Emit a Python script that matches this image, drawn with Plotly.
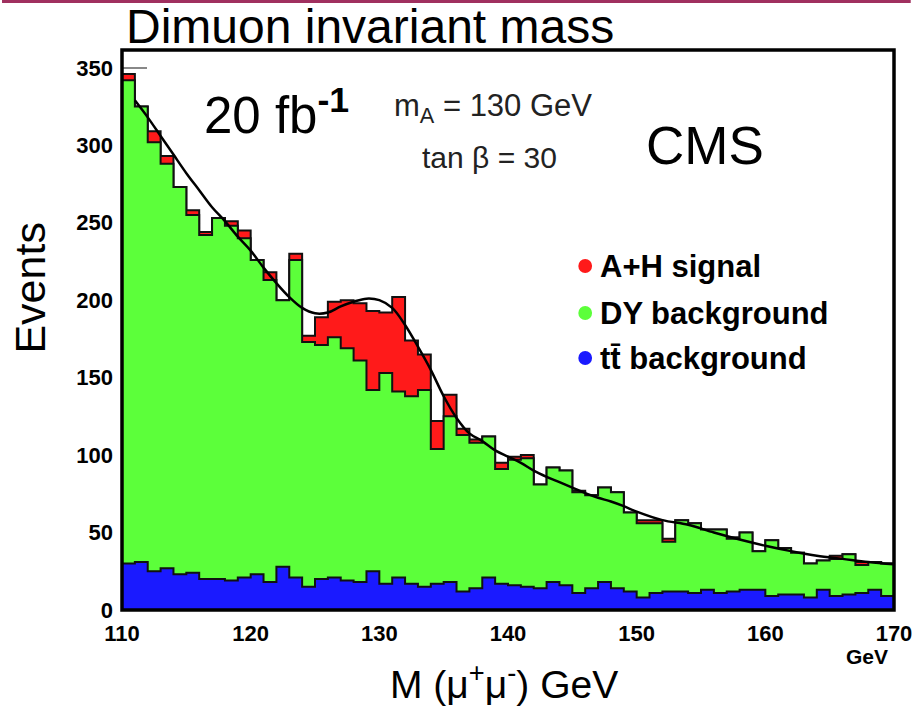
import plotly.graph_objects as go

# ---------------- data ----------------
mass_edges = list(range(110, 171))          # 1 GeV bins, 110 -> 170 GeV
tt_bkg = [30, 31, 25, 27, 23, 24, 20, 20, 19, 21,
          23, 18, 28, 21, 15, 20, 21, 19, 18, 25,
          17, 21, 17, 15, 17, 18, 12, 14, 21, 17,
          16, 15, 14, 18, 16, 11, 14, 18, 14, 12,
          8, 11, 12, 12, 11, 13, 11, 12, 13, 13,
          9, 10, 10, 8, 13, 9, 10, 11, 13, 9]
dy_bkg = [312, 294, 277, 261, 250, 231, 222, 233, 229, 219,
          203, 195, 172, 205, 158, 151, 155, 150, 143, 117,
          136, 120, 121, 127, 87, 107, 101, 94, 91, 74,
          81, 83, 67, 74, 74, 65, 60, 61, 62, 51,
          48, 45, 32, 46, 45, 39, 41, 34, 37, 25,
          36, 30, 27, 22, 19, 24, 26, 18, 18, 21]
signal = [4, 0, 7, 5, 0, 3, 2, 0, 3, 5,
          0, 5, 0, 4, 4, 18, 23, 31, 37, 51,
          39, 61, 36, 23, 18, 14, 4, 2, 0, 4,
          2, 2, 0, 0, 0, 1, 0, 0, 0, 0,
          2, 2, 2, 0, 0, 0, 0, 1, 0, 0,
          0, 0, 0, 0, 0, 2, 0, 2, 0, 0]
fit_x = [111, 112, 113, 114, 115, 116, 117, 118, 119, 120, 121, 122, 123, 124,
         125, 126, 127, 128, 129, 130, 131, 132, 133, 134, 135, 136, 137, 138,
         139, 140, 141, 142, 143, 144, 145, 146, 147, 148, 149, 150, 152, 154,
         156, 158, 160, 162, 164, 166, 168, 170]
fit_y = [329, 318, 306, 294, 282, 271, 260, 251, 241, 232, 221, 211, 202, 195,
         191.5, 192, 196, 199, 201, 200, 195, 184, 170, 155, 138, 124, 114, 109,
         103, 99, 95, 90, 86, 82.5, 79, 75.5, 72.5, 70, 67, 63.5, 58, 55,
         50, 45.5, 41.5, 38, 35, 33, 31, 29.5]
x_ticks = [110, 120, 130, 140, 150, 160, 170]
y_ticks = [0, 50, 100, 150, 200, 250, 300, 350]

# stacked tops
green_top = [t + d for t, d in zip(tt_bkg, dy_bkg)]
red_top = [g + s for g, s in zip(green_top, signal)]

# ---------------- layout geometry ----------------
W, H = 924, 707
L, R, T, B = 122, 907, 50, 610


def px(x):
    return (x - L) / (R - L)


def py(y):
    return (B - y) / (B - T)


FONT = "Liberation Sans, Arial, Helvetica, sans-serif"


def step(vals):
    return list(vals) + [vals[-1]]


fig = go.Figure()
for vals, col in [(red_top, "#ff1a1a"), (green_top, "#5cff3a"), (tt_bkg, "#1a1aff")]:
    fig.add_trace(go.Scatter(
        x=mass_edges, y=step(vals), mode="lines", line_shape="hv",
        line=dict(color="#111111", width=2), fill="tozeroy", fillcolor=col,
        hoverinfo="skip", showlegend=False))

fig.add_trace(go.Scatter(x=fit_x, y=fit_y, mode="lines", line_shape="spline",
                         line=dict(color="#000000", width=2.5),
                         showlegend=False, hoverinfo="skip"))

fig.update_layout(
    width=W, height=H,
    margin=dict(l=L, r=W - R, t=T, b=H - B, pad=0),
    paper_bgcolor="white", plot_bgcolor="white",
    showlegend=False,
    xaxis=dict(range=[110, 170], tickvals=x_ticks, ticktext=[str(v) for v in x_ticks],
               ticks="inside", ticklen=20, tickcolor="#888888", tickwidth=1.5,
               showgrid=False, zeroline=False, showline=False, layer="below traces",
               tickfont=dict(family=FONT, size=22, color="black", weight="bold"),
               ticklabelstandoff=8, ticklabeloverflow="allow"),
    yaxis=dict(range=[0, 361.5], tickvals=y_ticks, ticktext=[str(v) for v in y_ticks],
               ticks="inside", ticklen=25, tickcolor="#888888", tickwidth=1.5,
               showgrid=False, zeroline=False, showline=False, layer="below traces",
               tickfont=dict(family=FONT, size=22, color="black", weight="bold"),
               ticklabelstandoff=8, ticklabeloverflow="allow"),
)

shapes = [
    # frame
    dict(type="rect", xref="paper", yref="paper", x0=0, x1=1, y0=0, y1=1,
         line=dict(color="black", width=3.5), layer="above"),
    # top band
    dict(type="rect", xref="paper", yref="paper", x0=px(0), x1=px(W), y0=py(0), y1=py(3),
         line=dict(width=0), fillcolor="#a0305f", layer="above"),
]
for yy, col in [(266, "#ff1a1a"), (313, "#5cff3a"), (358, "#1a1aff")]:
    shapes.append(dict(type="circle", xref="paper", yref="paper",
                       x0=px(586), x1=px(600), y0=py(yy + 7), y1=py(yy - 7),
                       line=dict(width=0), fillcolor=col, layer="above"))
fig.update_layout(shapes=shapes)

ann = []


def text(s, x, y, size, xanchor="left", color="black", weight="normal", angle=0):
    ann.append(dict(text=s, x=px(x), y=py(y), xref="paper", yref="paper",
                    xanchor=xanchor, yanchor="middle", showarrow=False, textangle=angle,
                    font=dict(family=FONT, size=size, color=color, weight=weight)))


text("Dimuon invariant mass", 124, 27, 48)
text("20 fb<sup><b>-1</b></sup>", 203, 112, 51)
text("m<sub>A</sub> = 130 GeV", 397, 108, 31, color="#222222")
text("tan β = 30", 425, 157, 30, color="#222222")
text("CMS", 653, 146, 53)
text("A+H signal", 606, 266, 31, weight="bold")
text("DY background", 606, 313, 31, weight="bold")
text("tt\u0304 background", 606, 358, 31, weight="bold")
text("M (μ<sup>+</sup>μ<sup>-</sup>) GeV", 510, 681, 39, xanchor="center")
text("Events", 28, 288, 43, xanchor="center", angle=-90)
text("GeV", 880, 656, 21, xanchor="center", weight="bold")
fig.update_layout(annotations=ann)

fig.write_html("out.html")
